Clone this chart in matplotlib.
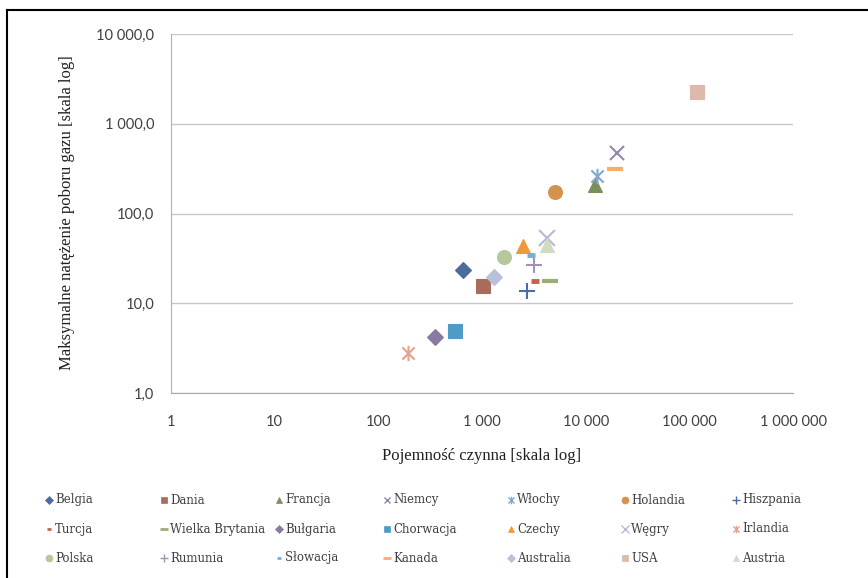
import numpy as np
import matplotlib
matplotlib.use("Agg")
import matplotlib.pyplot as plt
from matplotlib.path import Path
from matplotlib.lines import Line2D

# ---- data ----
countries = ["Belgia", "Dania", "Francja", "Niemcy", "Włochy", "Holandia", "Hiszpania",
             "Turcja", "Wielka Brytania", "Bułgaria", "Chorwacja", "Czechy", "Węgry", "Irlandia",
             "Polska", "Rumunia", "Słowacja", "Kanada", "Australia", "USA", "Austria"]
capacity = [655, 1020, 12270, 19950, 12830, 5050, 2710,
            3240, 4520, 351, 548, 2480, 4230, 193,
            1626, 3170, 2960, 19130, 1303, 118000, 4230]
max_withdrawal = [23.5, 15.6, 208, 474, 262, 174, 13.7,
                  17.7, 17.7, 4.2, 4.9, 43.5, 53.5, 2.8,
                  32.8, 26.7, 34.5, 314, 19.7, 2270, 44.7]

x_ticks = [1, 10, 100, 1000, 10000, 100000, 1000000]
x_ticklabels = ["1", "10", "100", "1 000", "10 000", "100 000", "1 000 000"]
y_ticks = [1, 10, 100, 1000, 10000]
y_ticklabels = ["1,0", "10,0", "100,0", "1 000,0", "10 000,0"]

# ---- styles ----
star = Path([(-1, -1), (1, 1), (-1, 1), (1, -1), (0, -1.25), (0, 1.25)],
            [Path.MOVETO, Path.LINETO, Path.MOVETO, Path.LINETO, Path.MOVETO, Path.LINETO])
styles = [
    dict(marker="D", color="#4d6c9e", ms=8),
    dict(marker="s", color="#a86c5a", ms=10),
    dict(marker="^", color="#7b8f5c", ms=10),
    dict(marker="x", color="#9289aa", ms=10, mew=1.5),
    dict(marker=star, color="#80a8d2", ms=11, mew=1.5),
    dict(marker="o", color="#d4934c", ms=10),
    dict(marker="+", color="#4a6bae", ms=12, mew=1.5),
    dict(marker="_", color="#c8604a", ms=6, mew=3.5),
    dict(marker="_", color="#98ae74", ms=12, mew=3),
    dict(marker="D", color="#8a7aa2", ms=8),
    dict(marker="s", color="#509ac8", ms=10),
    dict(marker="^", color="#f0983c", ms=10),
    dict(marker="x", color="#b8b8d8", ms=11, mew=1.5),
    dict(marker=star, color="#e2a48a", ms=11, mew=1.5),
    dict(marker="o", color="#b4c89c", ms=10),
    dict(marker="+", color="#a192bc", ms=12, mew=1.5),
    dict(marker="_", color="#70b0da", ms=6, mew=3.5),
    dict(marker="_", color="#f8ac6e", ms=12, mew=3),
    dict(marker="D", color="#b8c0dc", ms=8),
    dict(marker="s", color="#dcb9aa", ms=10),
    dict(marker="^", color="#cfdcc0", ms=10),
]

W, H = 868, 578
fig = plt.figure(figsize=(W / 100, H / 100), dpi=100)
fig.patch.set_facecolor("white")

# plot area
L, R, T, B = 171, 793, 34, 393
ax = fig.add_axes([L / W, 1 - B / H, (R - L) / W, (B - T) / H])
ax.set_xscale("log")
ax.set_yscale("log")
ax.set_xlim(1, 1e6)
ax.set_ylim(1, 1e4)

for xi, yi, st in zip(capacity, max_withdrawal, styles):
    m = st["marker"]
    line_like = isinstance(m, Path) or m in ("x", "+", "_")
    ax.plot([xi], [yi], linestyle="none", marker=m, markersize=st["ms"],
            markeredgewidth=st.get("mew", 0.8 if not line_like else 1.5),
            color=st["color"],
            markerfacecolor=("none" if line_like else st["color"]),
            markeredgecolor=st["color"], zorder=3, clip_on=False)

ax.set_xticks(x_ticks)
ax.set_xticklabels(x_ticklabels)
ax.set_yticks(y_ticks)
ax.set_yticklabels(y_ticklabels)
ax.minorticks_off()
ax.tick_params(axis="both", length=0, labelsize=10.5, labelcolor="#404040")
ax.tick_params(axis="x", pad=16)
ax.tick_params(axis="y", pad=12)
for lab in ax.get_xticklabels() + ax.get_yticklabels():
    lab.set_fontfamily("Lato")

ax.grid(axis="y", color="#c8c8c8", linewidth=1)
ax.set_axisbelow(True)
for s in ["top", "right"]:
    ax.spines[s].set_visible(False)
ax.spines["left"].set_color("#b0b0b0")
ax.spines["bottom"].set_color("#a8a8a8")

fig.text(482 / W, 1 - 456 / H, "Pojemność czynna [skala log]", ha="center", va="center",
         fontsize=12, family="Liberation Serif", color="#202020")
fig.text(67 / W, 1 - 213 / H, "Maksymalne natężenie poboru gazu [skala log]", ha="center",
         va="center", rotation=90, fontsize=12, family="Liberation Serif", color="#202020")

# legend (manual grid, 7 columns x 3 rows)
lax = fig.add_axes([0, 0, 1, 1])
lax.set_xlim(0, W)
lax.set_ylim(H, 0)
lax.axis("off")
col_text_x = [55, 170, 285, 393, 517, 631, 742]
row_y = [500, 529, 558]
for i, (name, st) in enumerate(zip(countries, styles)):
    c, r = i % 7, i // 7
    m = st["marker"]
    line_like = isinstance(m, Path) or m in ("x", "+", "_")
    ms = st["ms"] * 0.5
    lax.plot([col_text_x[c] - 6], [row_y[r]], linestyle="none", marker=m, markersize=ms,
             markeredgewidth=(1.0 if line_like else 0.5) if m != "_" else 2,
             color=st["color"], markerfacecolor=("none" if line_like else st["color"]),
             markeredgecolor=st["color"])
    lax.text(col_text_x[c], row_y[r], name, ha="left", va="center", fontsize=8.5,
             family="DejaVu Serif", color="#404040")

# chart border
lax.plot([7, 7], [10, 577], color="black", lw=1.5)
lax.plot([7, 868], [10, 10], color="black", lw=1.5)

fig.savefig("out.png", dpi=100, facecolor="white")
